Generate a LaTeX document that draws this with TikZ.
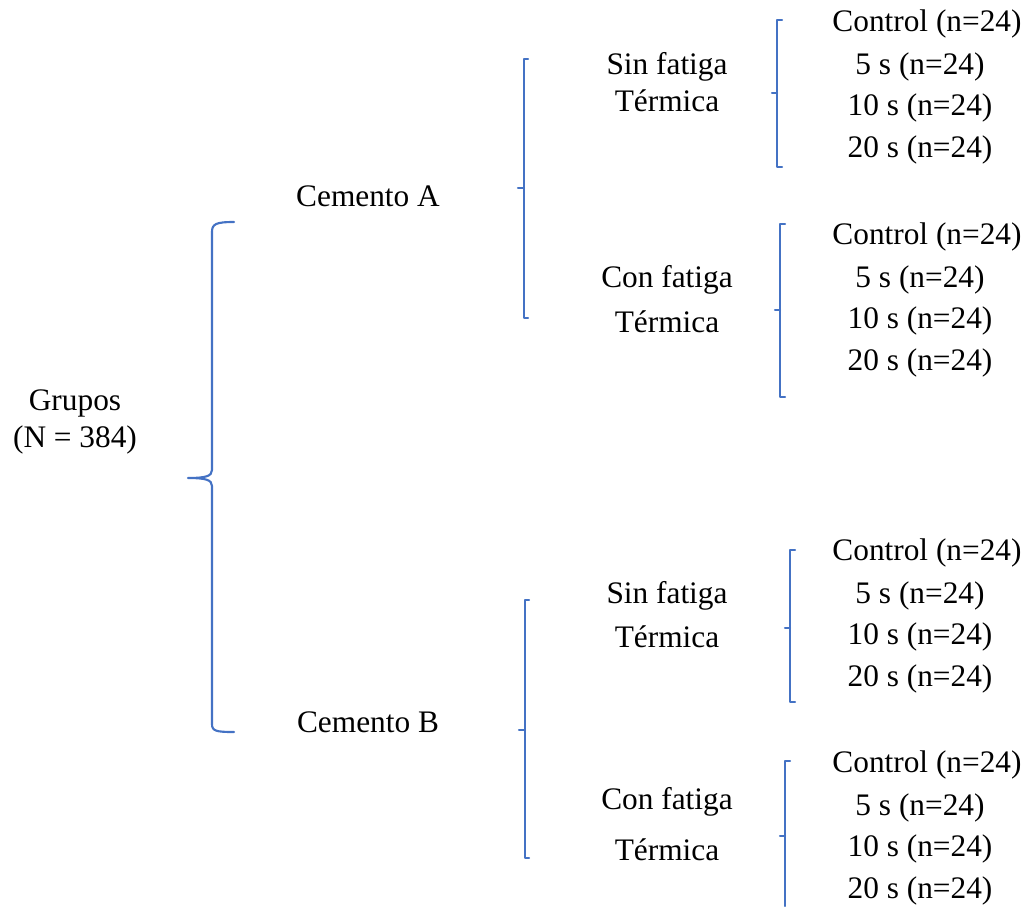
\documentclass[tikz,border=0pt]{standalone}
\usepackage{fontspec}
\setmainfont{Liberation Serif}
\definecolor{brk}{RGB}{68,114,196}
\begin{document}
\begin{tikzpicture}[x=0.75pt,y=-0.75pt,
  lbl/.style={inner sep=0pt,font=\fontsize{23.5}{28}\selectfont,anchor=center},
  brace/.style={draw=brk,line width=1.6pt,line cap=round,line join=round}]
\useasboundingbox (0,0) rectangle (1034,906);
% texts
\node[lbl] (g1) at (75,403) {Grupos};
\node[lbl] (g2) at (75,440) {(N = 384)};
\node[lbl] (ca) at (368,196) {Cemento A};
\node[lbl] (cb) at (368,722) {Cemento B};
\node[lbl] (a1a) at (667,67) {Sin fatiga};
\node[lbl] (a1b) at (667,101) {Térmica};
\node[lbl] (a2a) at (667,280) {Con fatiga};
\node[lbl] (a2b) at (667,322) {Térmica};
\node[lbl] (b1a) at (667,596) {Sin fatiga};
\node[lbl] (b1b) at (667,637) {Térmica};
\node[lbl] (b2a) at (667,802) {Con fatiga};
\node[lbl] (b2b) at (667,850) {Térmica};
\foreach \n/\y in {p1/24,p2/237,p3/553,p4/765}{
  \node[lbl] (\n c) at (927,\y) {Control (n=24)};
  \node[lbl] (\n f) at (920,\y+43) {5 s (n=24)};
  \node[lbl] (\n t) at (920,\y+84) {10 s (n=24)};
  \node[lbl] (\n w) at (920,\y+126) {20 s (n=24)};
}
% big brace
\draw[brace] (234,222) .. controls (216,222) and (212,224) .. (212,232) -- (212,470)
  .. controls (212,476) and (206,478) .. (188,478)
  .. controls (206,478) and (212,480) .. (212,486) -- (212,724)
  .. controls (212,731) and (216,732) .. (234,732);
% medium braces
\draw[brace] (528,59) -- (524,59) -- (524,318) -- (528,318);
\draw[brace] (518,188) -- (524,188);
\draw[brace] (529,600) -- (525,600) -- (525,858) -- (529,858);
\draw[brace] (519,730) -- (525,730);
% small braces
\draw[brace] (782,20) -- (777,20) -- (777,167) -- (782,167);
\draw[brace] (772,93) -- (777,93);
\draw[brace] (785,224) -- (780,224) -- (780,397) -- (785,397);
\draw[brace] (775,310) -- (780,310);
\draw[brace] (795,550) -- (790,550) -- (790,702) -- (795,702);
\draw[brace] (785,628) -- (790,628);
\draw[brace] (790,761) -- (785,761) -- (785,906);
\draw[brace] (780,836) -- (785,836);
\end{tikzpicture}
\end{document}
